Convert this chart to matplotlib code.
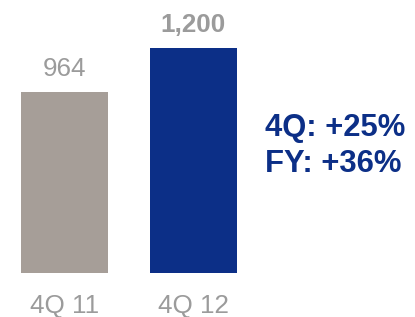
import matplotlib
matplotlib.use("Agg")
import matplotlib.pyplot as plt

categories = ["4Q 11", "4Q 12"]
values = [964, 1200]
value_labels = ["964", "1,200"]
label_weights = ["normal", "bold"]
bar_colors = ["#A69E98", "#0C2F87"]
side_lines = ["4Q: +25%", "FY: +36%"]

W, H = 415, 317
DPI = 100
px2pt = 72.0 / DPI

plt.rcParams['font.family'] = ['Liberation Sans', 'DejaVu Sans']

fig = plt.figure(figsize=(W / DPI, H / DPI), dpi=DPI)
ax = fig.add_axes([0, (H - 273) / H, 1, 273 / H])
ax.set_xlim(-64.5 / 129, (W - 64.5) / 129)
ax.set_ylim(0, 273 / 225 * 1200)
ax.axis('off')

x = list(range(len(categories)))
ax.bar(x, values, width=87 / 129, color=bar_colors)

gray = "#9B9B9B"
for i, (v, lab, w) in enumerate(zip(values, value_labels, label_weights)):
    ax.annotate(lab, xy=(i, v), xytext=(0, 16 * px2pt), textcoords='offset points',
                ha='center', va='baseline', fontsize=26 * px2pt, color=gray, fontweight=w)
    ax.annotate(categories[i], xy=(i, 0), xycoords=('data', 'axes fraction'),
                xytext=(0, -40 * px2pt), textcoords='offset points',
                ha='center', va='baseline', fontsize=26 * px2pt, color=gray)

for line, base in zip(side_lines, [136, 172]):
    fig.text(265 / W, 1 - base / H, line, ha='left', va='baseline',
             fontsize=31 * px2pt, fontweight='bold', color="#0C2F87")

fig.savefig("out.png", dpi=DPI)
